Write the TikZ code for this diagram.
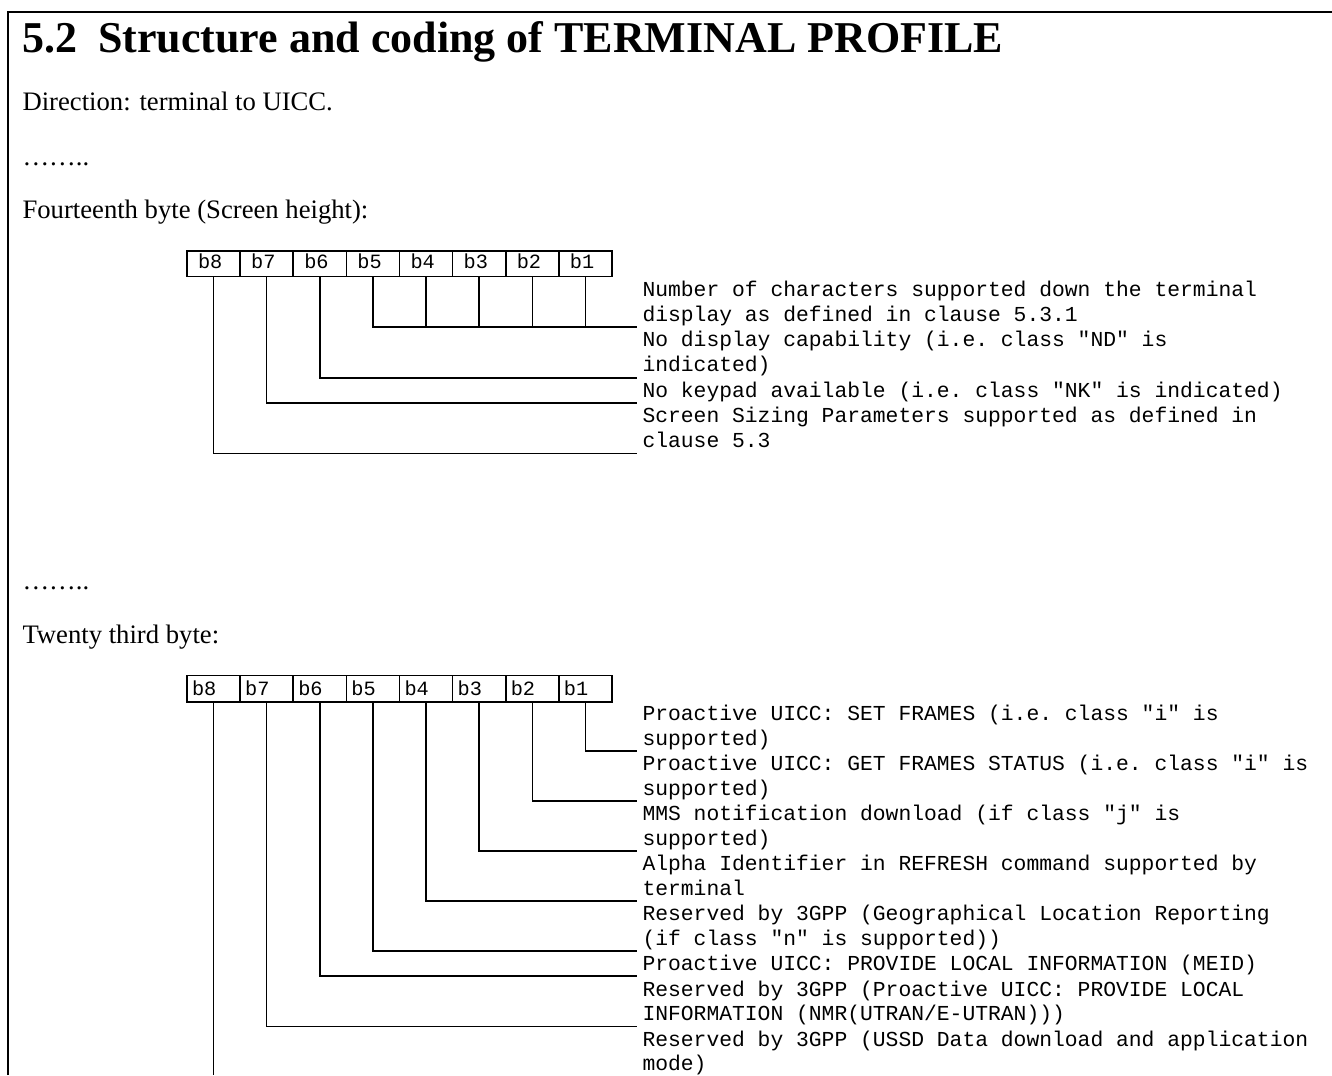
\documentclass[tikz,border=0pt]{standalone}
\usepackage{fontspec}
\setmainfont{Liberation Serif}
\setmonofont{Liberation Mono}
\begin{document}
\begin{tikzpicture}[x=0.375pt,y=-0.375pt,
  frame/.style={line width=0.75pt},
  wire/.style={line width=0.6pt},
  cell/.style={draw, line width=0.6pt, inner sep=0pt, minimum width=19.92pt, minimum height=9.6pt},
  lbl/.style={inner sep=0pt, anchor=base west, font=\ttfamily\fontsize{7.6}{9.5}\selectfont},
  desc/.style={inner sep=0pt, anchor=base west, font=\ttfamily\fontsize{8}{9.5}\selectfont},
  body/.style={inner sep=0pt, anchor=base west, font=\fontsize{10}{12}\selectfont},
  head/.style={inner sep=0pt, anchor=base west, font=\bfseries\fontsize{16.5}{20}\selectfont}]
\useasboundingbox (0,0) rectangle (1332,1075);
% frame
\coordinate (ftl) at (7.5,12);
\coordinate (ftr) at (1332,12);
\coordinate (fbl) at (7.5,1075);
\draw[frame] (fbl) -- (ftl) -- (ftr);
% headings and body text
\node[head] (hnum) at (22,52.7) {5.2};
\node[head] (htitle) at (97.6,52.7) {Structure and coding of TERMINAL PROFILE};
\node[body] (dir) at (22,110) {Direction: terminal to UICC.};
\node[body] (dots1) at (22,165) {……..};
\node[body] (b14) at (22,218) {Fourteenth byte (Screen height):};
\node[body] (dots2) at (22,589) {……..};
\node[body] (b23) at (22,643) {Twenty third byte:};
% ---------- table 1 ----------
\foreach \i/\n in {0/8,1/7,2/6,3/5,4/4,5/3,6/2,7/1}{
  \node[cell, minimum height=9.675pt] (a\n) at ({213.56+53.125*\i},263.6) {};
  \node[lbl] (la\n) at ({197.5+53.125*\i},268.5) {b\n};
}
\coordinate (e1) at (636.5,327.1);
\coordinate (e2) at (636.5,377.7);
\coordinate (e3) at (636.5,403);
\coordinate (e4) at (636.5,453.6);
\draw[wire] (a5.south) |- (e1);
\foreach \n in {4,3,2,1}{ \draw[wire] (a\n.south) -- (a\n.south |- e1); }
\draw[wire] (a6.south) |- (e2);
\draw[wire] (a7.south) |- (e3);
\draw[wire] (a8.south) |- (e4);
\node[desc] (d1a) at (642,296.3) {Number of characters supported down the terminal};
\node[desc] (d1b) at (642,321.4) {display as defined in clause 5.3.1};
\node[desc] (d2a) at (642,346.7) {No display capability (i.e. class "ND" is};
\node[desc] (d2b) at (642,371.8) {indicated)};
\node[desc] (d3a) at (642,397) {No keypad available (i.e. class "NK" is indicated)};
\node[desc] (d4a) at (642,422.5) {Screen Sizing Parameters supported as defined in};
\node[desc] (d4b) at (642,447.6) {clause 5.3};
% ---------- table 2 ----------
\foreach \i/\n in {0/8,1/7,2/6,3/5,4/4,5/3,6/2,7/1}{
  \node[cell, minimum height=9.9pt] (s\n) at ({213.56+53.125*\i},688.6) {};
  \node[lbl] (ls\n) at ({191.5+53.125*\i},695) {b\n};
}
\coordinate (f1) at (636.5,751);
\coordinate (f2) at (636.5,801);
\coordinate (f3) at (636.5,851);
\coordinate (f4) at (636.5,901);
\coordinate (f5) at (636.5,951);
\coordinate (f6) at (636.5,976);
\coordinate (f7) at (636.5,1026.5);
\coordinate (fbot) at (0,1075);
\foreach \n in {1,...,7}{ \draw[wire] (s\n.south) |- (f\n); }
\draw[wire] (s8.south) -- (s8.south |- fbot);
\node[desc] (g1a) at (642,720.5) {Proactive UICC: SET FRAMES (i.e. class "i" is};
\node[desc] (g1b) at (642,745.5) {supported)};
\node[desc] (g2a) at (642,770.5) {Proactive UICC: GET FRAMES STATUS (i.e. class "i" is};
\node[desc] (g2b) at (642,795.5) {supported)};
\node[desc] (g3a) at (642,820.5) {MMS notification download (if class "j" is};
\node[desc] (g3b) at (642,845.5) {supported)};
\node[desc] (g4a) at (642,870.5) {Alpha Identifier in REFRESH command supported by};
\node[desc] (g4b) at (642,895.5) {terminal};
\node[desc] (g5a) at (642,920.5) {Reserved by 3GPP (Geographical Location Reporting};
\node[desc] (g5b) at (642,945.5) {(if class "n" is supported))};
\node[desc] (g6a) at (642,970.5) {Proactive UICC: PROVIDE LOCAL INFORMATION (MEID)};
\node[desc] (g7a) at (642,996) {Reserved by 3GPP (Proactive UICC: PROVIDE LOCAL};
\node[desc] (g7b) at (642,1020.5) {INFORMATION (NMR(UTRAN/E-UTRAN)))};
\node[desc] (g8a) at (642,1046.5) {Reserved by 3GPP (USSD Data download and application};
\node[desc] (g8b) at (642,1070.5) {mode)};
\end{tikzpicture}
\end{document}
